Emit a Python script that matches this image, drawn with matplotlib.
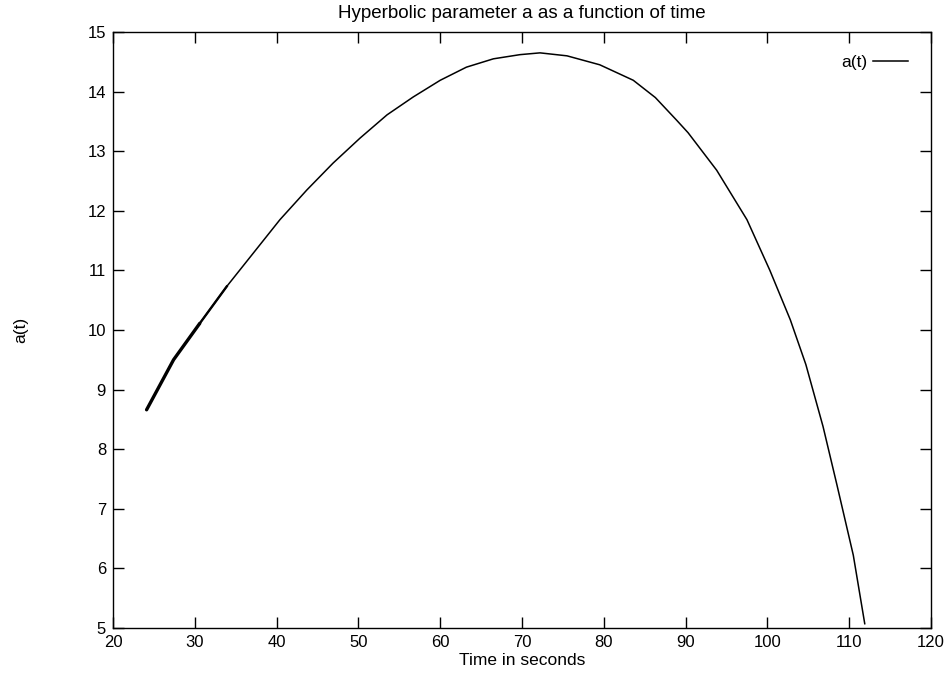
import matplotlib
matplotlib.use('Agg')
import matplotlib.pyplot as plt

# values
time_s = [24.1, 27.4, 30.6, 33.9, 37.15, 40.4, 43.7, 46.9, 50.2, 53.5, 56.7,
          60.0, 63.2, 66.5, 69.75, 72.2, 75.5, 79.5, 83.6, 86.3, 88.9, 90.3,
          93.8, 97.5, 100.3, 102.8, 104.7, 106.8, 108.5, 110.5, 111.9]
a_values = [8.66, 9.50, 10.11, 10.73, 11.29, 11.85, 12.35, 12.80, 13.22, 13.61,
            13.91, 14.19, 14.41, 14.55, 14.62, 14.65, 14.60, 14.45, 14.19,
            13.90, 13.52, 13.31, 12.68, 11.85, 11.00, 10.17, 9.42, 8.38, 7.40,
            6.22, 5.07]

x_ticks = [20, 30, 40, 50, 60, 70, 80, 90, 100, 110, 120]
y_ticks = [5, 6, 7, 8, 9, 10, 11, 12, 13, 14, 15]

plt.rcParams['font.family'] = ['Liberation Sans', 'DejaVu Sans']

fig = plt.figure(figsize=(9.5, 6.81), dpi=100)
ax = fig.add_axes([0.119, 0.078, 0.861, 0.875])

ax.plot(time_s, a_values, color='black', linewidth=1.1, label='a(t)')
# the early part of the curve is drawn thicker in the original (noisy data)
ax.plot(time_s[:3], a_values[:3], color='black', linewidth=2.4,
        solid_capstyle='round')
ax.plot(time_s[2:4], a_values[2:4], color='black', linewidth=1.7)

ax.set_xlim(20, 120)
ax.set_ylim(5, 15)
ax.set_xticks(x_ticks)
ax.set_yticks(y_ticks)
ax.tick_params(direction='in', length=8, width=1, top=True, right=True,
               labelsize=12, pad=5)
for spine in ax.spines.values():
    spine.set_linewidth(1)

ax.set_title('Hyperbolic parameter a as a function of time', fontsize=13.5, pad=10)
ax.set_xlabel('Time in seconds', fontsize=12.5, labelpad=2)
ax.set_ylabel('a(t)', fontsize=12.5, labelpad=43)

ax.legend(loc='upper right', bbox_to_anchor=(1.0, 1.0), frameon=False,
          markerfirst=False, fontsize=12.5, handlelength=2.0,
          handletextpad=0.35, borderaxespad=0.92)

fig.savefig('out.png', dpi=100, facecolor='white')
